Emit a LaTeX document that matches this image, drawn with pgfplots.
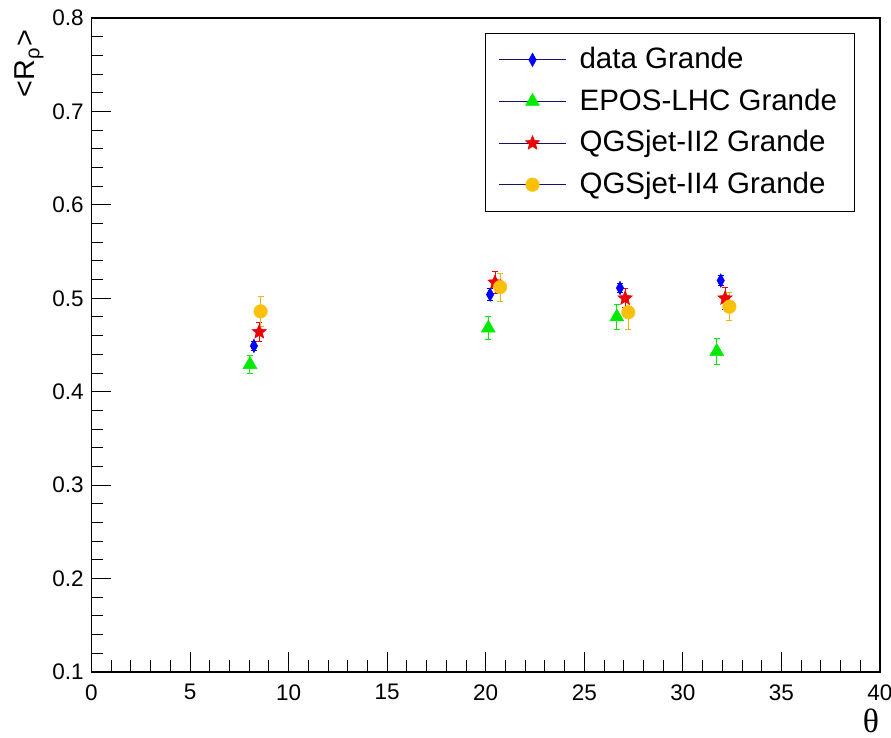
\documentclass[border=0pt]{standalone}
\usepackage{fontspec}
\setmainfont{Liberation Sans}
\newfontfamily\symfont{Liberation Serif}
\usepackage{pgfplots}
\pgfplotsset{compat=1.18}

\definecolor{rblue}{RGB}{0,0,255}
\definecolor{rgreen}{RGB}{0,235,0}
\definecolor{rred}{RGB}{240,0,0}
\definecolor{rorange}{RGB}{250,192,10}
\definecolor{legline}{RGB}{20,20,110}

% filled five-pointed star
\pgfdeclareplotmark{fstar}{%
  \pgfpathmoveto{\pgfpointpolar{90}{\pgfplotmarksize}}%
  \pgfpathlineto{\pgfpointpolar{126}{0.45\pgfplotmarksize}}%
  \pgfpathlineto{\pgfpointpolar{162}{\pgfplotmarksize}}%
  \pgfpathlineto{\pgfpointpolar{198}{0.45\pgfplotmarksize}}%
  \pgfpathlineto{\pgfpointpolar{234}{\pgfplotmarksize}}%
  \pgfpathlineto{\pgfpointpolar{270}{0.45\pgfplotmarksize}}%
  \pgfpathlineto{\pgfpointpolar{306}{\pgfplotmarksize}}%
  \pgfpathlineto{\pgfpointpolar{342}{0.45\pgfplotmarksize}}%
  \pgfpathlineto{\pgfpointpolar{18}{\pgfplotmarksize}}%
  \pgfpathlineto{\pgfpointpolar{54}{0.45\pgfplotmarksize}}%
  \pgfpathclose\pgfusepathqfillstroke}
% narrow filled diamond
\pgfdeclareplotmark{thindiamond}{%
  \pgfpathmoveto{\pgfqpoint{0pt}{\pgfplotmarksize}}%
  \pgfpathlineto{\pgfpoint{0.55\pgfplotmarksize}{0pt}}%
  \pgfpathlineto{\pgfpoint{0pt}{-\pgfplotmarksize}}%
  \pgfpathlineto{\pgfpoint{-0.55\pgfplotmarksize}{0pt}}%
  \pgfpathclose\pgfusepathqfillstroke}

\newcommand{\legtext}[1]{\makebox[104.8pt][l]{#1}}

\begin{document}
\begin{tikzpicture}
\begin{axis}[
  name=main,
  scale only axis,
  width=315.4pt, height=261.6pt,
  xmin=0, xmax=40, ymin=0.1, ymax=0.8,
  xtick={0,5,...,40}, minor x tick num=4,
  ytick={0.1,0.2,0.3,0.4,0.5,0.6,0.7,0.8}, minor y tick num=4,
  xtick pos=lower, ytick pos=left,
  tick align=inside,
  major tick length=8pt, minor tick length=4.8pt,
  every tick/.style={black, line width=0.4pt},
  axis line style={line width=0.45pt},
  /pgf/number format/assume math mode=true,
  ticklabel style={font=\fontsize{9}{10.8}\selectfont},
  yticklabel style={/pgf/number format/fixed, /pgf/number format/precision=1,
    /pgf/number format/fixed zerofill, xshift=0.4pt},
  xticklabel style={yshift=-1.4pt},
  ylabel={<R\textsubscript{ρ}>},
  ylabel style={at={(axis description cs:-0.0717,0.995)}, anchor=base east,
    font=\fontsize{11.5}{13}\selectfont},
  xlabel={\symfont θ},
  xlabel style={at={(axis description cs:0.9886,-0.0755)}, anchor=center,
    font=\fontsize{13.5}{15}\selectfont},
  legend style={at={(rel axis cs:0.499,0.977)}, anchor=north west,
    draw=black, line width=0.4pt, inner xsep=5.2pt, inner ysep=5.5pt,
    font=\fontsize{11.8}{13}\selectfont, row sep=6.6pt, column sep=5.2pt,
    nodes={inner sep=0pt}},
  legend cell align=left,
  legend image code/.code={%
    \draw[legline, line width=0.45pt] (0pt,0pt) -- (26.8pt,0pt);
    \draw[only marks, #1] plot coordinates {(13.4pt,0pt)};},
  error bars/y dir=both, error bars/y explicit,
  error bars/error mark options={rotate=90, mark size=1.2pt, line width=0.4pt},
  error bars/error bar style={line width=0.4pt},
]
\addplot[only marks, mark=thindiamond, mark size=2.7pt, color=rblue,
  mark options={fill=rblue, draw=rblue, line width=0.2pt},
  error bars/error bar style={rblue}]
  coordinates {
  (8.24,0.449) +- (0,0.005)
  (20.22,0.504) +- (0,0.006)
  (26.81,0.511) +- (0,0.005)
  (31.92,0.519) +- (0,0.005)
  };
\addlegendentry{\legtext{data Grande}}
\addplot[only marks, mark=triangle*, mark size=3.2pt, color=rgreen,
  mark options={fill=rgreen, draw=rgreen, line width=0.2pt},
  error bars/error bar style={rgreen}]
  coordinates {
  (8.04,0.429) +- (0,0.010)
  (20.13,0.468) +- (0,0.012)
  (26.65,0.480) +- (0,0.013)
  (31.72,0.443) +- (0,0.014)
  };
\addlegendentry{\legtext{EPOS-LHC Grande}}
\addplot[only marks, mark=fstar, mark size=3pt, color=rred,
  mark options={fill=rred, draw=rred, line width=0.2pt},
  error bars/error bar style={rred}]
  coordinates {
  (8.51,0.464) +- (0,0.010)
  (20.47,0.517) +- (0,0.012)
  (27.07,0.500) +- (0,0.010)
  (32.14,0.500) +- (0,0.012)
  };
\addlegendentry{\legtext{QGSjet-II2 Grande}}
\addplot[only marks, mark=*, mark size=2.7pt, color=rorange,
  mark options={fill=rorange, draw=rorange, line width=0.2pt},
  error bars/error bar style={rorange!80!brown}]
  coordinates {
  (8.58,0.486) +- (0,0.016)
  (20.73,0.512) +- (0,0.015)
  (27.23,0.485) +- (0,0.018)
  (32.36,0.491) +- (0,0.015)
  };
\addlegendentry{\legtext{QGSjet-II4 Grande}}
\end{axis}
\pgfresetboundingbox
\path ([shift={(-36.6pt,-26.4pt)}]main.south west)
  rectangle ([shift={(4.4pt,7.2pt)}]main.north east);
\end{tikzpicture}
\end{document}
